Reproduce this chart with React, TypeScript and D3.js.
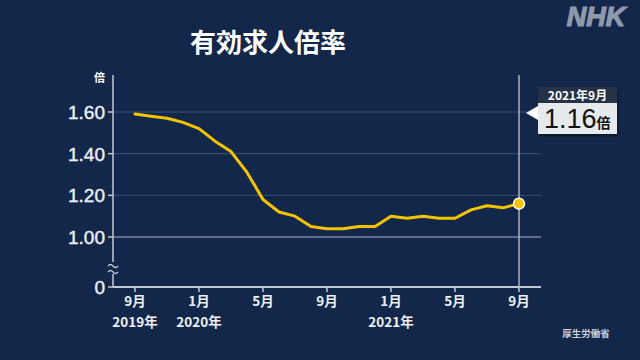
import React from "react";
import * as d3 from "d3";

// 有効求人倍率 (monthly, 2019年9月 – 2021年9月)
const months = [
  "2019-09", "2019-10", "2019-11", "2019-12",
  "2020-01", "2020-02", "2020-03", "2020-04", "2020-05", "2020-06",
  "2020-07", "2020-08", "2020-09", "2020-10", "2020-11", "2020-12",
  "2021-01", "2021-02", "2021-03", "2021-04", "2021-05", "2021-06",
  "2021-07", "2021-08", "2021-09",
];
const ratios = [
  1.59, 1.58, 1.57, 1.55,
  1.52, 1.46, 1.41, 1.31, 1.18, 1.12,
  1.1, 1.05, 1.04, 1.04, 1.05, 1.05,
  1.1, 1.09, 1.1, 1.09, 1.09, 1.13,
  1.15, 1.14, 1.16,
];
const yTicks = [0, 1.0, 1.2, 1.4, 1.6];
const xTickIdx = [0, 4, 8, 12, 16, 20, 24];
const xTickLabels = ["9月", "1月", "5月", "9月", "1月", "5月", "9月"];
const xYearLabels = ["2019年", "2020年", "", "", "2021年", "", ""];

const W = 640;
const H = 360;
const BG = "#12274a";
const LINE = "#f5c400";
const JP = "'Noto Sans CJK JP', sans-serif";
const NUM = "'Liberation Sans', Arial, sans-serif";

export default function App() {
  const x = d3.scaleLinear().domain([0, months.length - 1]).range([135, 519]);
  // broken axis: 0 sits below the 1.00 line
  const y = d3.scaleLinear().domain([0, 1, 1.6]).range([287, 237, 112]);

  const axisX = 113;
  const axisTop = 75;
  const plotRight = 541;

  const line = d3
    .line<number>()
    .x((_, i) => x(i))
    .y((d) => y(d))
    .curve(d3.curveLinear);

  const last = ratios.length - 1;
  const lx = x(last);
  const ly = y(ratios[last]);

  // callout box
  const bx = 538;
  const by = 87;
  const bw = 79;
  const topH = 16;
  const botH = 31;

  return (
    <svg
      width={W}
      height={H}
      style={{ position: "absolute", left: 0, top: 0, display: "block" }}
    >
      <defs>
        <filter id="shadow" x="-20%" y="-20%" width="140%" height="150%">
          <feDropShadow dx="1" dy="2" stdDeviation="1.5" floodColor="#000" floodOpacity="0.5" />
        </filter>
      </defs>
      <rect width={W} height={H} fill={BG} />

      {/* title & logo */}
      <text x={268} y={52} textAnchor="middle" fill="#fff" fontFamily={JP} fontWeight={700} fontSize={26}>
        有効求人倍率
      </text>
      <text
        x={596}
        y={26}
        textAnchor="middle"
        fill="#8f99aa"
        stroke="#8f99aa"
        strokeWidth={1.2}
        fontFamily={NUM}
        fontWeight={700}
        fontStyle="italic"
        fontSize={27}
      >
        NHK
      </text>

      {/* grid */}
      {yTicks
        .filter((t) => t > 1)
        .map((t) => (
          <line key={t} x1={axisX} x2={plotRight} y1={y(t)} y2={y(t)} stroke="#3d5275" strokeWidth={1} />
        ))}
      <line x1={axisX} x2={plotRight} y1={y(1)} y2={y(1)} stroke="#aeb7c6" strokeWidth={1.2} />

      {/* y axis */}
      <line x1={axisX} x2={axisX} y1={axisTop} y2={y(0)} stroke="#c3c9d3" strokeWidth={1.5} />
      {yTicks.map((t) => (
        <g key={t}>
          <line x1={axisX - 5} x2={axisX} y1={y(t)} y2={y(t)} stroke="#c3c9d3" strokeWidth={1.5} />
          <text
            x={axisX - 8}
            y={y(t)}
            dy="0.36em"
            textAnchor="end"
            fill="#eef1f5"
            stroke="#eef1f5"
            strokeWidth={0.4}
            fontFamily={NUM}
            fontSize={19}
          >
            {t === 0 ? "0" : d3.format(".2f")(t)}
          </text>
        </g>
      ))}
      <text x={axisX - 8} y={82} textAnchor="end" fill="#fff" fontFamily={JP} fontWeight={700} fontSize={11}>
        倍
      </text>
      {/* axis break */}
      <rect x={axisX - 4} y={262} width={8} height={12} fill={BG} />
      {[265, 271].map((yy) => (
        <path
          key={yy}
          d={`M${axisX - 5},${yy + 1} q2.5,-3 5,0 t5,0`}
          fill="none"
          stroke="#c3c9d3"
          strokeWidth={1.3}
        />
      ))}

      {/* x axis */}
      <line x1={axisX} x2={plotRight} y1={y(0)} y2={y(0)} stroke="#c3c9d3" strokeWidth={1.8} />
      {xTickIdx.map((idx, i) => (
        <g key={idx} transform={`translate(${x(idx)},${y(0)})`}>
          <line y1={0} y2={5} stroke="#c3c9d3" strokeWidth={1.5} />
          <text y={19} textAnchor="middle" fill="#eef1f5" fontFamily={JP} fontWeight={700} fontSize={13.5}>
            {xTickLabels[i]}
          </text>
          {xYearLabels[i] && (
            <text y={40} textAnchor="middle" fill="#eef1f5" fontFamily={JP} fontWeight={700} fontSize={13.5}>
              {xYearLabels[i]}
            </text>
          )}
        </g>
      ))}

      {/* latest month marker line */}
      <line x1={lx} x2={lx} y1={axisTop} y2={y(0)} stroke="#a9b3c4" strokeWidth={1.5} />

      {/* data line */}
      <path
        d={line(ratios) ?? ""}
        fill="none"
        stroke={LINE}
        strokeWidth={3}
        strokeLinejoin="round"
        strokeLinecap="round"
      />
      <circle cx={lx} cy={ly} r={5.5} fill={LINE} stroke="#fff" strokeWidth={1.5} />

      {/* callout */}
      <g filter="url(#shadow)">
        <rect x={bx} y={by} width={bw} height={topH} fill="#283244" />
        <rect x={bx} y={by + topH} width={bw} height={botH} fill="#e7eaed" />
      </g>
      <path d={`M${bx - 12},${y(1.6) + 1} L${bx},${y(1.6) - 6} L${bx},${y(1.6) + 8} Z`} fill="#fff" />
      <text
        x={bx + bw / 2}
        y={by + 12.5}
        textAnchor="middle"
        fill="#fff"
        fontFamily={JP}
        fontWeight={700}
        fontSize={12}
      >
        2021年9月
      </text>
      <text x={bx + 6} y={by + topH + 25} fill="#111" fontFamily={NUM} fontSize={27}>
        {d3.format(".2f")(ratios[last])}
        <tspan fontFamily={JP} fontSize={14} fontWeight={700}>
          倍
        </tspan>
      </text>

      {/* source */}
      <text x={586} y={337} textAnchor="middle" fill="#cbd2dc" fontFamily={JP} fontWeight={700} fontSize={9.5}>
        厚生労働省
      </text>
    </svg>
  );
}
